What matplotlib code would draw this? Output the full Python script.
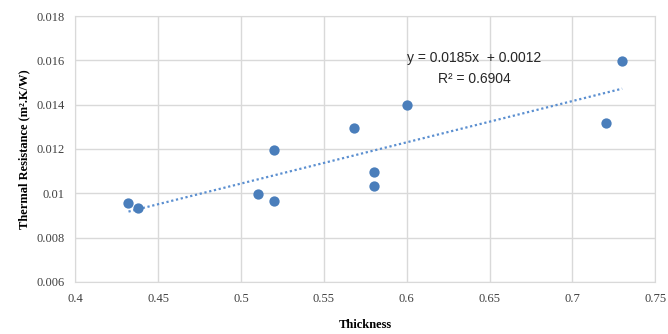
import numpy as np
import matplotlib
matplotlib.use("Agg")
import matplotlib.pyplot as plt

thickness = [0.432, 0.438, 0.510, 0.520, 0.520, 0.568, 0.580, 0.580, 0.600, 0.720, 0.730]
resistance = [0.00955, 0.00935, 0.00995, 0.01195, 0.00965, 0.01295, 0.01095, 0.01035, 0.01398, 0.01317, 0.01598]

xticks = [0.4, 0.45, 0.5, 0.55, 0.6, 0.65, 0.7, 0.75]
yticks = [0.006, 0.008, 0.01, 0.012, 0.014, 0.016, 0.018]
xlabels = ["0.4", "0.45", "0.5", "0.55", "0.6", "0.65", "0.7", "0.75"]
ylabels = ["0.006", "0.008", "0.01", "0.012", "0.014", "0.016", "0.018"]

fig = plt.figure(figsize=(6.68, 3.34), dpi=100)
ax = fig.add_axes([0.113, 0.156, 0.868, 0.796])

ax.scatter(thickness, resistance, s=55, color="#4a7ebb", zorder=3, linewidths=0)

# linear trendline
m, c = np.polyfit(thickness, resistance, 1)
xs = np.array([min(thickness), max(thickness)])
ax.plot(xs, m * xs + c, linestyle=(0, (1, 1.2)), color="#5b8fd0", lw=1.6, zorder=2)

ax.text(0.6405, 0.0161, "y = 0.0185x  + 0.0012", fontsize=10, family="Liberation Sans",
        ha="center", va="center", color="#262626")
ax.text(0.6405, 0.01515, "R² = 0.6904", fontsize=10, family="Liberation Sans",
        ha="center", va="center", color="#262626")

ax.set_xlim(0.4, 0.75)
ax.set_ylim(0.006, 0.018)
ax.set_xticks(xticks)
ax.set_xticklabels(xlabels)
ax.set_yticks(yticks)
ax.set_yticklabels(ylabels)
ax.tick_params(length=0, labelsize=9, pad=8, labelcolor="#404040")
for lab in ax.get_xticklabels() + ax.get_yticklabels():
    lab.set_family("Liberation Serif")

ax.grid(True, color="#d9d9d9", lw=1)
ax.set_axisbelow(True)
for s in ax.spines.values():
    s.set_color("#d9d9d9")

ax.set_xlabel("Thickness", family="Liberation Serif", fontweight="bold", fontsize=9, labelpad=10)
ax.set_ylabel("Thermal Resistance (m².K/W)", family="Liberation Serif", fontweight="bold", fontsize=9, labelpad=4)

fig.savefig("out.png", dpi=100)
